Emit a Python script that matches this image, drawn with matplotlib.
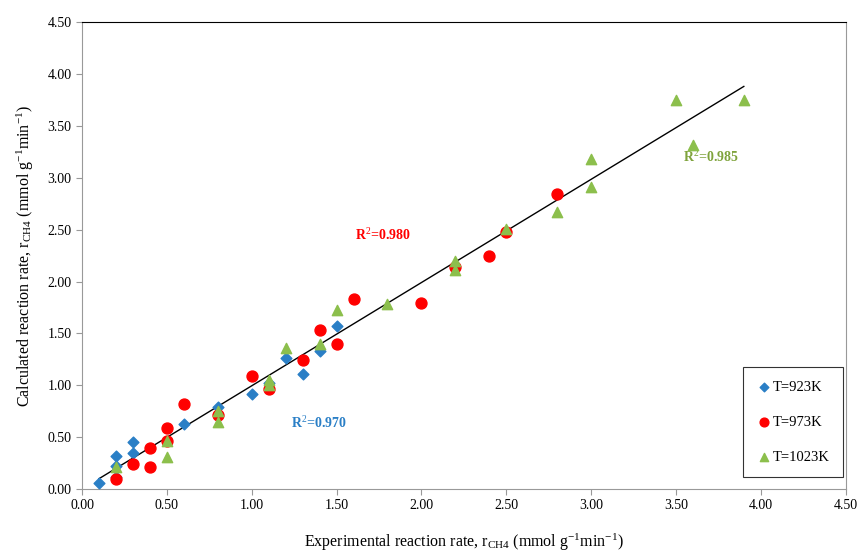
import matplotlib
matplotlib.use('Agg')
import matplotlib.pyplot as plt

plt.rcParams['font.family'] = 'Liberation Serif'
plt.rcParams['mathtext.fontset'] = 'custom'
plt.rcParams['mathtext.rm'] = 'Liberation Serif'
plt.rcParams['mathtext.it'] = 'Liberation Serif:italic'
plt.rcParams['mathtext.bf'] = 'Liberation Serif:bold'

# T = 923 K
x923 = [0.1, 0.2, 0.2, 0.2, 0.3, 0.3, 0.6, 0.8, 1.0, 1.1, 1.2, 1.3, 1.4, 1.5]
y923 = [0.06, 0.32, 0.22, 0.12, 0.45, 0.35, 0.63, 0.79, 0.92, 1.02, 1.26, 1.11, 1.33, 1.57]

# T = 973 K
x973 = [0.2, 0.3, 0.4, 0.4, 0.5, 0.5, 0.6, 0.8, 1.0, 1.1, 1.3, 1.4, 1.5, 1.6,
        2.0, 2.2, 2.4, 2.5, 2.8]
y973 = [0.10, 0.24, 0.40, 0.21, 0.59, 0.46, 0.82, 0.71, 1.09, 0.96, 1.24, 1.53, 1.40, 1.83,
        1.79, 2.14, 2.25, 2.48, 2.84]

# T = 1023 K
x1023 = [0.2, 0.5, 0.5, 0.8, 0.8, 1.1, 1.1, 1.2, 1.4, 1.5, 1.8, 2.2, 2.2, 2.5,
         2.8, 3.0, 3.0, 3.5, 3.6, 3.9]
y1023 = [0.21, 0.46, 0.31, 0.75, 0.65, 1.05, 1.00, 1.36, 1.40, 1.73, 1.78, 2.20, 2.11, 2.51,
         2.67, 3.18, 2.91, 3.75, 3.32, 3.75]

# trend line (parity fit)
fit_x = [0.1, 3.9]
fit_y = [0.1, 3.88]

ticks = [0, 0.5, 1.0, 1.5, 2.0, 2.5, 3.0, 3.5, 4.0, 4.5]

fig = plt.figure(figsize=(8.58, 5.52), dpi=100)
ax = fig.add_axes([0.0956, 0.114, 0.890, 0.846])

ax.plot(fit_x, fit_y, color='black', lw=1.0, zorder=2)
ax.scatter(x923, y923, marker='D', s=30, color='#2a7fc6', label='T=923K', zorder=3)
ax.scatter(x973, y973, marker='o', s=62, color='#ff0000', label='T=973K', zorder=3)
ax.scatter(x1023, y1023, marker='^', s=55, color='#8cbf4c', label='T=1023K', zorder=4)

ax.text(1.23, 0.64, r'R$^{2}$=0.970', color='#2a7fc6', fontsize=10, fontweight='bold', va='center')
ax.text(1.61, 2.45, r'R$^{2}$=0.980', color='#ff0000', fontsize=10, fontweight='bold', va='center')
ax.text(3.54, 3.20, r'R$^{2}$=0.985', color='#7fa33c', fontsize=10, fontweight='bold', va='center')

ax.set_xlim(0, 4.5)
ax.set_ylim(0, 4.5)
ax.set_xticks(ticks)
ax.set_yticks(ticks)
ax.set_xticklabels([f'{t:.2f}' for t in ticks])
ax.set_yticklabels([f'{t:.2f}' for t in ticks])
ax.tick_params(labelsize=10, color='#999999', length=4)

for side in ['left', 'bottom', 'right']:
    ax.spines[side].set_color('#999999')
ax.spines['top'].set_color('black')

ax.set_xlabel(r'Experimental reaction rate, r$_{\mathrm{CH4}}$ (mmol g$^{-1}$min$^{-1}$)',
              fontsize=11.5, labelpad=14)
ax.set_ylabel(r'Calculated reaction rate, r$_{\mathrm{CH4}}$ (mmol g$^{-1}$min$^{-1}$)',
              fontsize=11.5, labelpad=8)

leg = ax.legend(loc='lower right', bbox_to_anchor=(0.996, 0.026), borderaxespad=0,
                fontsize=10.5, frameon=True, fancybox=False, edgecolor='black',
                labelspacing=1.5, handletextpad=0.1, handlelength=1.0,
                borderpad=0.9, markerscale=0.8)
leg.get_frame().set_linewidth(0.8)

fig.savefig('out.png', dpi=100)
